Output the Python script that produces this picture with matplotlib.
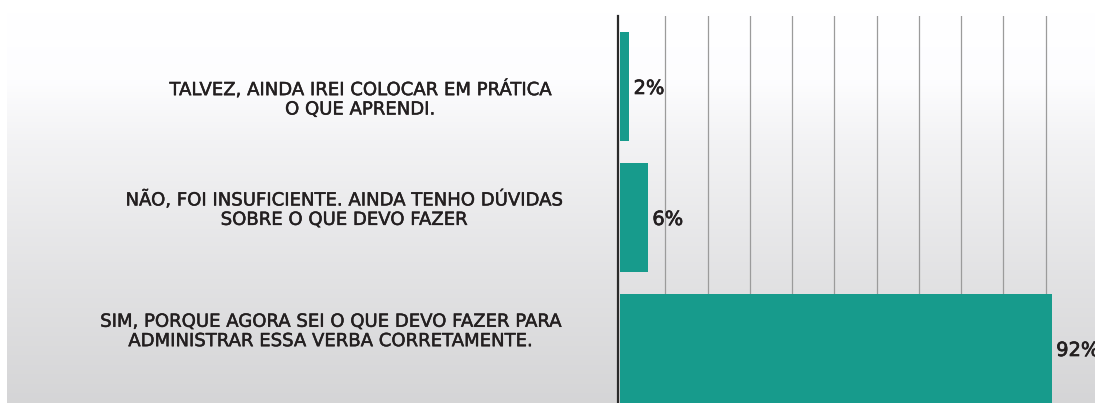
import numpy as np
import matplotlib
matplotlib.use("Agg")
import matplotlib.pyplot as plt
import matplotlib.patheffects as pe

# Survey answers (top to bottom) and their shares in percent
categories = [
    "TALVEZ, AINDA IREI COLOCAR EM PRÁTICA\nO QUE APRENDI.",
    "NÃO, FOI INSUFICIENTE. AINDA TENHO DÚVIDAS\nSOBRE O QUE DEVO FAZER",
    "SIM, PORQUE AGORA SEI O QUE DEVO FAZER PARA\nADMINISTRAR ESSA VERBA CORRETAMENTE.",
]
values = [2, 6, 92]
value_labels = [f"{v}%" for v in values]

# Layout / style
label_x = [-55.4, -58.9, -61.8]          # centre of each answer text (data units)
label_dy = [0.10, -0.06, -0.13]          # vertical nudge of each answer text
bar_color = "#179b8c"
text_color = "#231f20"
grid_color = "#9b9b9b"
medium = [pe.withStroke(linewidth=0.35, foreground=text_color)]

W, H, DPI = 1095, 403, 100
fig = plt.figure(figsize=(W / DPI, H / DPI), dpi=DPI)
fig.patch.set_facecolor("white")

# Soft vertical grey gradient behind the chart
bg = fig.add_axes([7 / W, 0, (W - 7) / W, (H - 13) / H], zorder=0)
rows = np.linspace(13, 403, 400)
shade = np.interp(rows, [13, 80, 140, 270, 403], [255, 253, 243, 227, 213]) / 255.0
img = np.stack([shade, shade, np.clip(shade + 0.006, 0, 1)], axis=-1)  # (400, 3)
img = np.repeat(img[:, None, :], 2, axis=1)                             # (400, 2, 3)
bg.imshow(img, aspect="auto", extent=[0, 1, 0, 1], origin="upper",
          interpolation="bilinear")
bg.set_xlim(0, 1)
bg.set_ylim(0, 1)
bg.set_axis_off()

# Main bar axes
ax = fig.add_axes([618 / W, 0, (W - 618) / W, (H - 16) / H], zorder=1)
ax.patch.set_alpha(0)
px_per_unit = 432 / 92
ax.set_xlim(-2 / px_per_unit, (W - 620) / px_per_unit)
ax.set_ylim(2.416, -0.538)

y = np.arange(len(values))
ax.barh(y, values, height=0.83, color=bar_color, zorder=3)

# Vertical grid lines
for gx in np.arange(9.65, 92, 9.0):
    ax.axvline(gx, color=grid_color, lw=0.9, zorder=1)

for s in ["top", "right", "bottom"]:
    ax.spines[s].set_visible(False)
ax.spines["left"].set_color("#2a2a2a")
ax.spines["left"].set_linewidth(1.6)
ax.spines["left"].set_zorder(4)
ax.set_xticks([])
ax.set_yticks([])

# Value labels at the end of each bar
for yi, v, lab in zip(y, values, value_labels):
    ax.annotate(lab, xy=(v, yi), xytext=(3, 0), textcoords="offset points",
                ha="left", va="center_baseline", fontsize=14, color=text_color,
                family="DejaVu Sans", clip_on=False, zorder=5,
                path_effects=[pe.withStroke(linewidth=0.5, foreground=text_color)])

# Answer texts to the left
for yi, lab, lx, dy in zip(y, categories, label_x, label_dy):
    ax.text(lx, yi + dy, lab, ha="center", va="center", multialignment="center",
            fontsize=13, color=text_color, family="DejaVu Sans",
            linespacing=1.1, clip_on=False, path_effects=medium)

fig.savefig("out.png", dpi=DPI)
